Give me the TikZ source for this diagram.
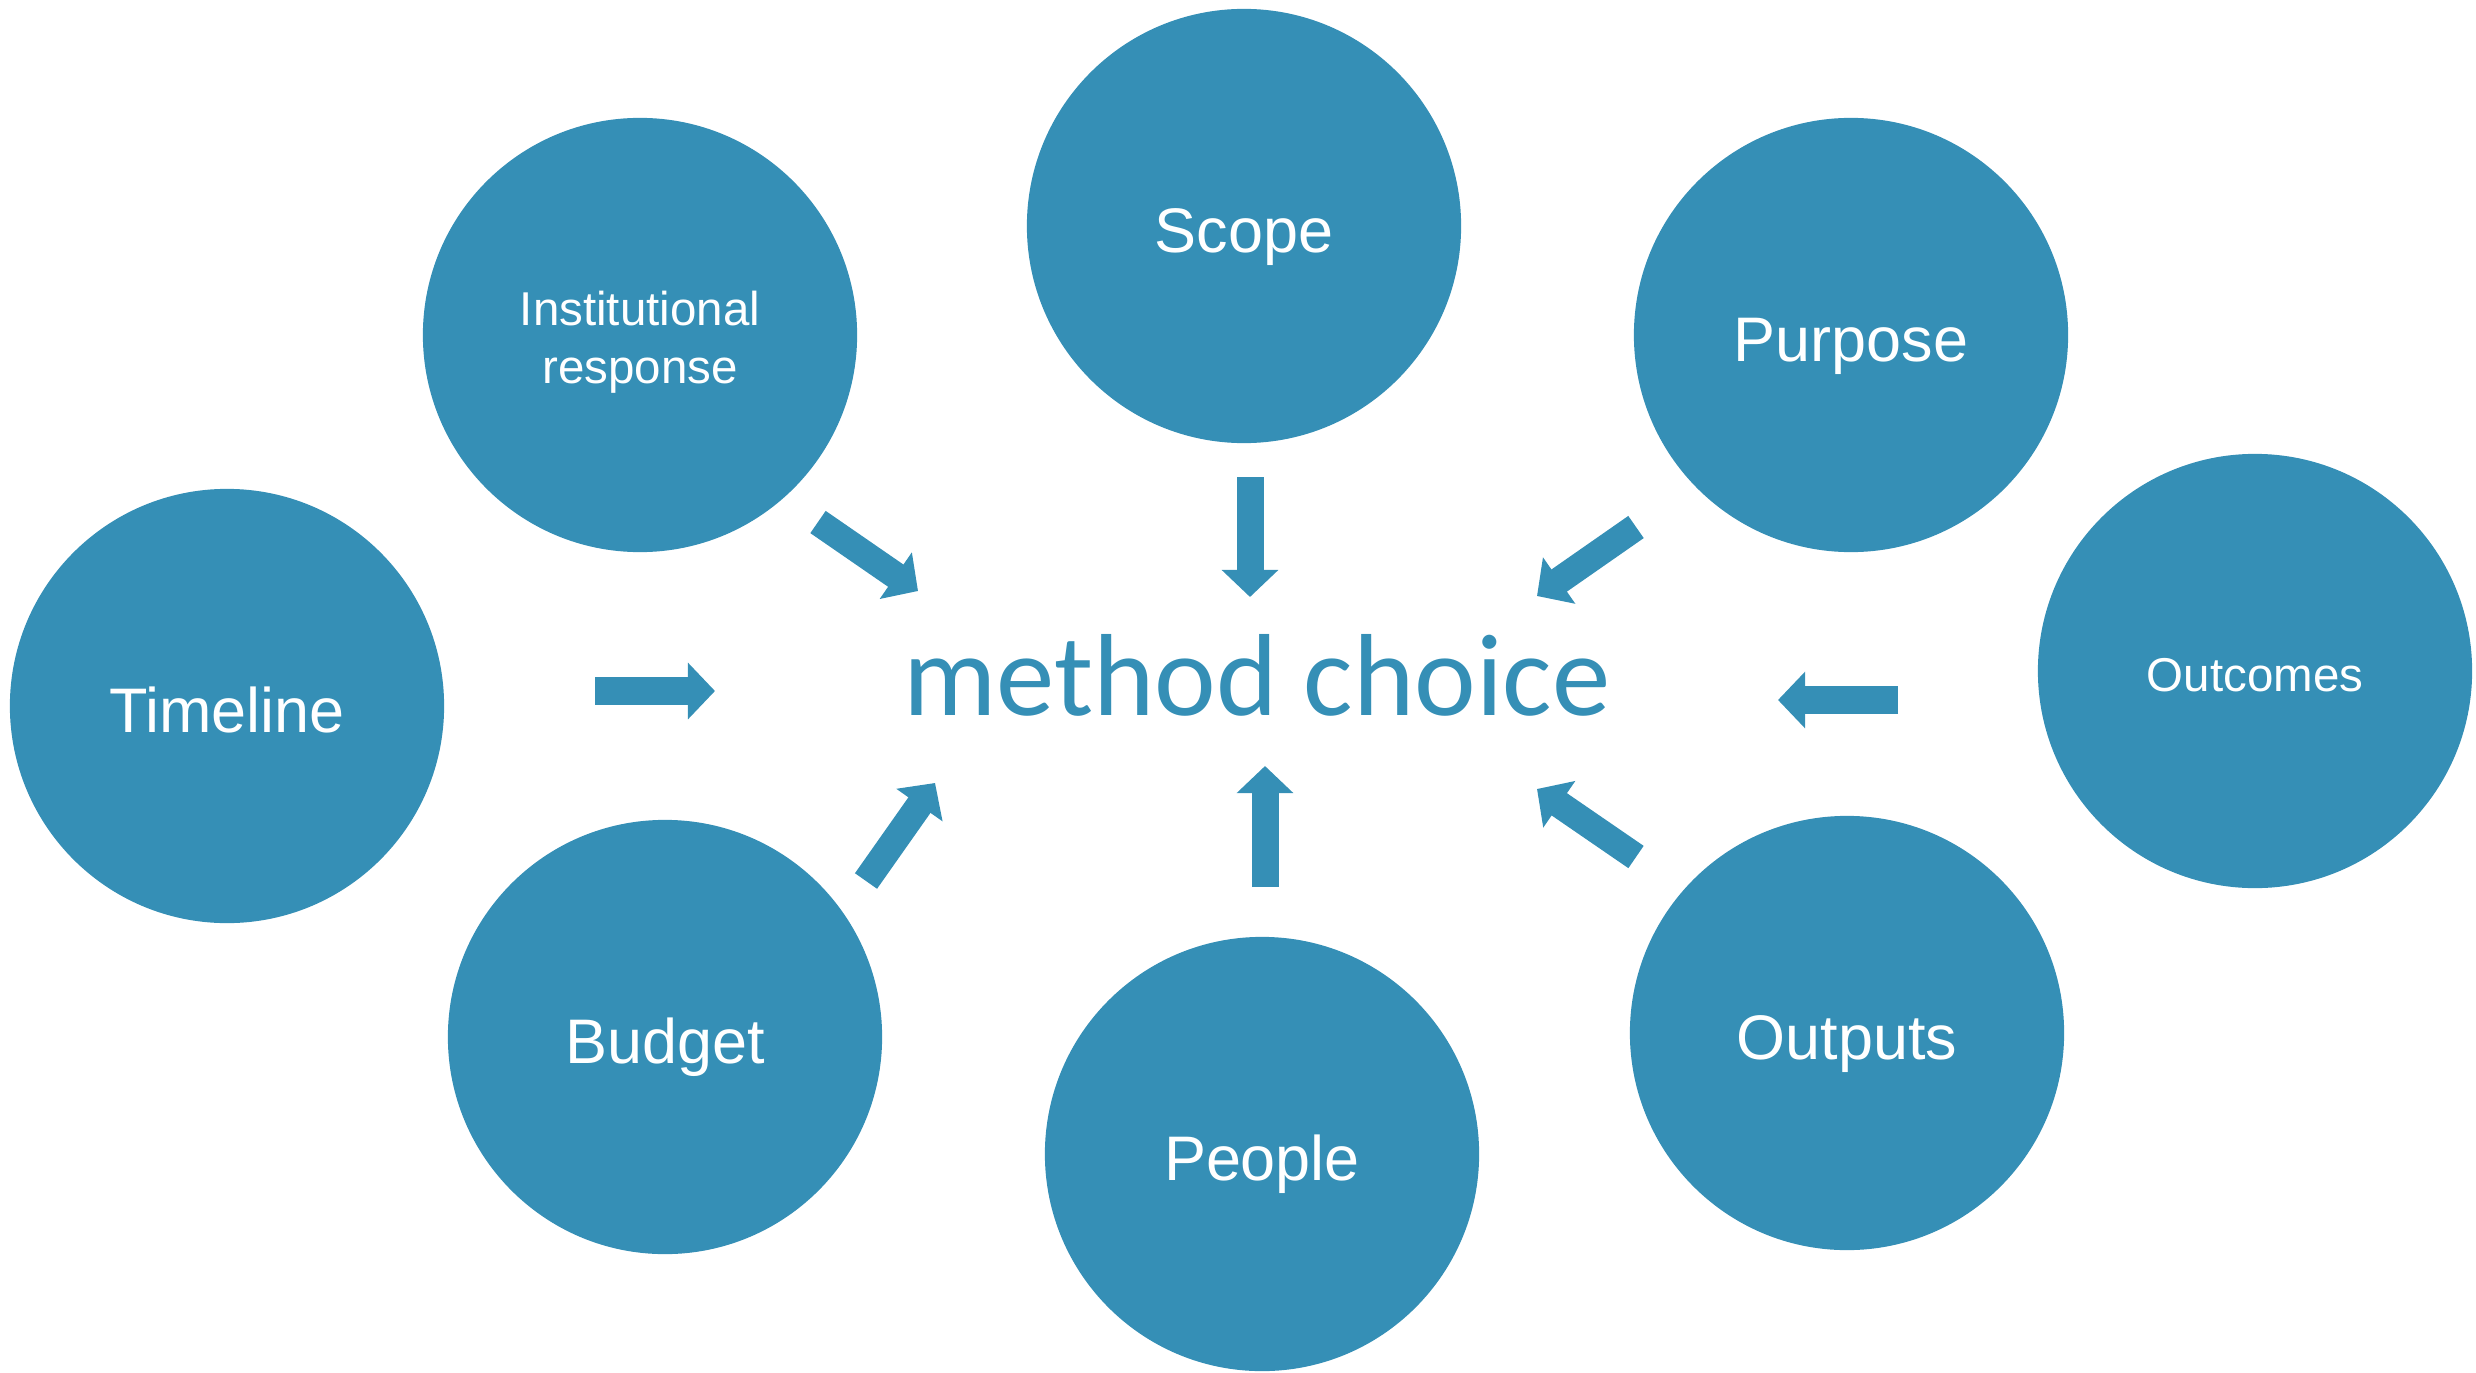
\documentclass[tikz,border=0pt]{standalone}
\usepackage{fontspec}
\setmainfont{Liberation Sans}
\newfontfamily\calfont{Carlito}
\usetikzlibrary{arrows.meta}
\definecolor{tealblue}{RGB}{53,143,182}
\begin{document}
\begin{tikzpicture}[x=0.01cm,y=-0.01cm,
  circ/.style={circle,fill=tealblue,draw=none,minimum size=4.34cm,inner sep=0pt,
    text=white,font=\fontsize{17.9pt}{21pt}\selectfont,text height=14.8pt,text depth=0pt},
  circplain/.style={circle,fill=tealblue,draw=none,minimum size=4.34cm,inner sep=0pt},
  smalltext/.style={text=white,font=\fontsize{13.5pt}{16.6pt}\selectfont,align=center,inner sep=0pt},
  blockarrow/.style={draw=tealblue,line width=0.27cm,line cap=butt,
    -{Triangle[length=0.27cm,width=0.55cm]}},
  maintext/.style={text=tealblue,font=\calfont\fontsize{33.2pt}{40pt}\selectfont,inner sep=0pt}
]
\useasboundingbox (0,0) rectangle (2476,1373);
% circles
\node[circ] (scope) at (1244,226) {Scope};
\node[circplain] (inst) at (640,335) {};
\node[smalltext] (instlabel) at (640,342) {Institutional\\response};
\node[circ] (purpose) at (1851,335) {Purpose};
\node[circ] (timeline) at (227,706) {Timeline};
\node[circ,font=\fontsize{13.5pt}{16.6pt}\selectfont,text height=11.6pt] (outcomes) at (2255,671) {Outcomes};
\node[circ] (budget) at (665,1037) {Budget};
\node[circ] (people) at (1262,1154) {People};
\node[circ] (outputs) at (1847,1033) {Outputs};
% centre text
\node[maintext,anchor=base] (mc) at (1257,715) {method choice};
% arrow end points
\coordinate (a1s) at (818,522);  \coordinate (a1e) at (918,591);
\coordinate (a2s) at (1250,477); \coordinate (a2e) at (1250,597);
\coordinate (a3s) at (1636,527); \coordinate (a3e) at (1537,596);
\coordinate (a4s) at (595,691);  \coordinate (a4e) at (715,691);
\coordinate (a5s) at (1898,700); \coordinate (a5e) at (1778,700);
\coordinate (a6s) at (1636,857); \coordinate (a6e) at (1537,789);
\coordinate (a7s) at (1265,887); \coordinate (a7e) at (1265,766);
\coordinate (a8s) at (866,881);  \coordinate (a8e) at (935,783);
\draw[blockarrow] (a1s) -- (a1e);
\draw[blockarrow] (a2s) -- (a2e);
\draw[blockarrow] (a3s) -- (a3e);
\draw[blockarrow] (a4s) -- (a4e);
\draw[blockarrow] (a5s) -- (a5e);
\draw[blockarrow] (a6s) -- (a6e);
\draw[blockarrow] (a7s) -- (a7e);
\draw[blockarrow] (a8s) -- (a8e);
\end{tikzpicture}
\end{document}
